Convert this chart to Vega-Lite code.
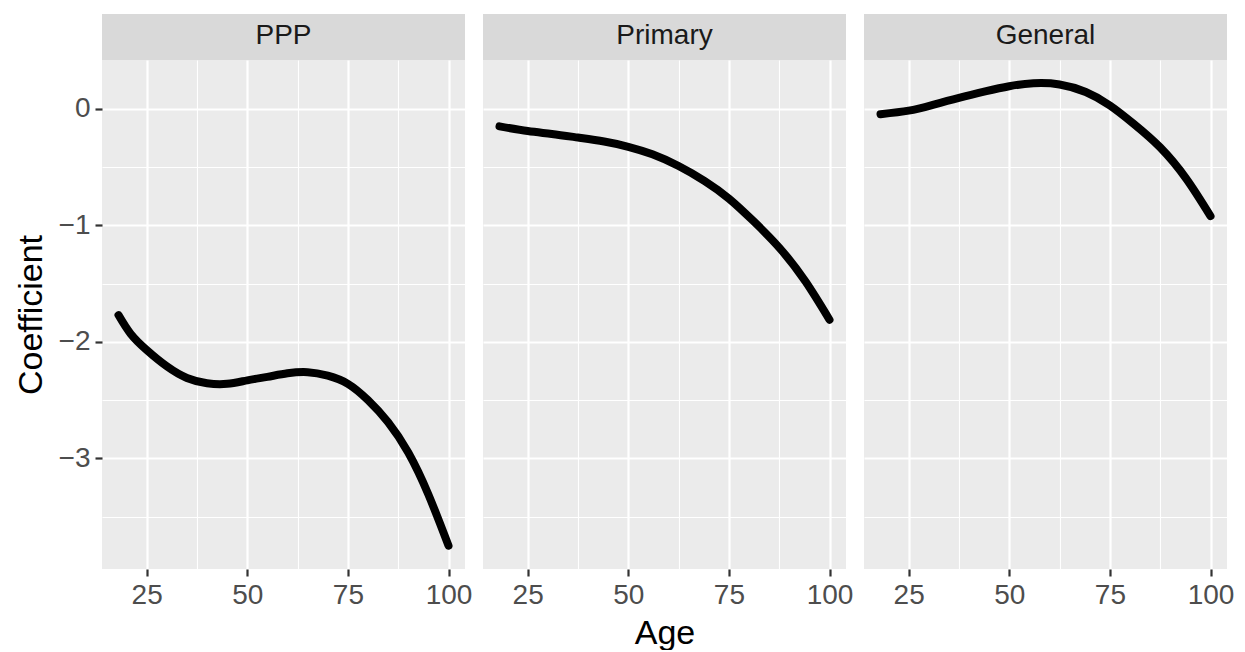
{
  "$schema": "https://vega.github.io/schema/vega-lite/v6.json",
  "background": "white",
  "padding": {"left": 14, "top": 14, "right": 5, "bottom": 0},
  "spacing": 11,
  "config": {
    "font": "Liberation Sans",
    "view": {"stroke": null},
    "axis": {
      "domain": false,
      "grid": true,
      "gridColor": "white",
      "tickColor": "#333333",
      "tickWidth": 2.2,
      "tickSize": 7,
      "labelFontSize": 28,
      "labelColor": "#4d4d4d",
      "labelPadding": 5,
      "titleFontSize": 34,
      "titleFontWeight": "normal",
      "titleColor": "black",
      "labelFlush": false,
      "labelOverlap": false
    }
  },
  "datasets": {
    "curves": [
      {"panel": "PPP", "age": 18, "coef": -1.77},
      {"panel": "PPP", "age": 21, "coef": -1.93},
      {"panel": "PPP", "age": 25, "coef": -2.07},
      {"panel": "PPP", "age": 30, "coef": -2.21},
      {"panel": "PPP", "age": 35, "coef": -2.31},
      {"panel": "PPP", "age": 40, "coef": -2.355},
      {"panel": "PPP", "age": 45, "coef": -2.36},
      {"panel": "PPP", "age": 50, "coef": -2.33},
      {"panel": "PPP", "age": 55, "coef": -2.3},
      {"panel": "PPP", "age": 60, "coef": -2.27},
      {"panel": "PPP", "age": 65, "coef": -2.26},
      {"panel": "PPP", "age": 70, "coef": -2.29},
      {"panel": "PPP", "age": 75, "coef": -2.36},
      {"panel": "PPP", "age": 80, "coef": -2.5},
      {"panel": "PPP", "age": 85, "coef": -2.69},
      {"panel": "PPP", "age": 90, "coef": -2.95},
      {"panel": "PPP", "age": 95, "coef": -3.31},
      {"panel": "PPP", "age": 100, "coef": -3.75},
      {"panel": "Primary", "age": 18, "coef": -0.15},
      {"panel": "Primary", "age": 25, "coef": -0.19},
      {"panel": "Primary", "age": 31, "coef": -0.215},
      {"panel": "Primary", "age": 37.5, "coef": -0.246},
      {"panel": "Primary", "age": 44, "coef": -0.28},
      {"panel": "Primary", "age": 50, "coef": -0.325},
      {"panel": "Primary", "age": 56, "coef": -0.39},
      {"panel": "Primary", "age": 62.5, "coef": -0.49},
      {"panel": "Primary", "age": 69, "coef": -0.62},
      {"panel": "Primary", "age": 75, "coef": -0.77},
      {"panel": "Primary", "age": 81, "coef": -0.96},
      {"panel": "Primary", "age": 87.5, "coef": -1.19},
      {"panel": "Primary", "age": 94, "coef": -1.48},
      {"panel": "Primary", "age": 100, "coef": -1.81},
      {"panel": "General", "age": 18, "coef": -0.045},
      {"panel": "General", "age": 25, "coef": -0.015},
      {"panel": "General", "age": 31, "coef": 0.035},
      {"panel": "General", "age": 37.5, "coef": 0.095},
      {"panel": "General", "age": 44, "coef": 0.15},
      {"panel": "General", "age": 50, "coef": 0.195},
      {"panel": "General", "age": 56, "coef": 0.22},
      {"panel": "General", "age": 62.5, "coef": 0.21},
      {"panel": "General", "age": 69, "coef": 0.145},
      {"panel": "General", "age": 75, "coef": 0.03},
      {"panel": "General", "age": 81, "coef": -0.13},
      {"panel": "General", "age": 87.5, "coef": -0.33},
      {"panel": "General", "age": 94, "coef": -0.6},
      {"panel": "General", "age": 100, "coef": -0.92}
    ]
  },
  "hconcat": [
    {
      "spacing": 0,
      "vconcat": [
        {
          "width": 363, "height": 46,
          "view": {"fill": "#d9d9d9", "stroke": null},
          "data": {"values": [{"label": "PPP"}]},
          "mark": {"type": "text", "fontSize": 28, "color": "#1a1a1a", "baseline": "alphabetic", "dy": 7},
          "encoding": {"text": {"field": "label"}}
        },
        {
          "width": 363, "height": 509,
          "view": {"fill": "#ebebeb", "stroke": null},
          "data": {"name": "curves"},
          "transform": [{"filter": "datum.panel === 'PPP'"}],
          "mark": {"type": "line", "color": "black", "strokeWidth": 8, "strokeCap": "round", "strokeJoin": "round", "interpolate": "natural"},
          "encoding": {
            "x": {"field": "age", "type": "quantitative", "scale": {"domain": [13.9, 104.1], "nice": false, "zero": false},
              "axis": {"title": null, "values": [25, 37.5, 50, 62.5, 75, 87.5, 100],
                "labelExpr": "datum.value % 25 === 0 ? format(datum.value, 'd') : ''",
                "gridWidth": {"condition": {"test": "datum.value % 25 === 0", "value": 2.2}, "value": 1.1},
                "tickOpacity": {"condition": {"test": "datum.value % 25 === 0", "value": 1}, "value": 0}}},
            "y": {"field": "coef", "type": "quantitative", "scale": {"domain": [-3.95, 0.42], "nice": false, "zero": false},
              "axis": {"title": "Coefficient", "titlePadding": 10, "values": [0, -0.5, -1, -1.5, -2, -2.5, -3, -3.5],
                "labelExpr": "datum.value % 1 === 0 ? format(datum.value, 'd') : ''",
                "gridWidth": {"condition": {"test": "datum.value % 1 === 0", "value": 2.2}, "value": 1.1},
                "tickOpacity": {"condition": {"test": "datum.value % 1 === 0", "value": 1}, "value": 0}}}
          }
        }
      ]
    },
    {
      "spacing": 0,
      "vconcat": [
        {
          "width": 363, "height": 46,
          "view": {"fill": "#d9d9d9", "stroke": null},
          "data": {"values": [{"label": "Primary"}]},
          "mark": {"type": "text", "fontSize": 28, "color": "#1a1a1a", "baseline": "alphabetic", "dy": 7},
          "encoding": {"text": {"field": "label"}}
        },
        {
          "width": 363, "height": 509,
          "view": {"fill": "#ebebeb", "stroke": null},
          "data": {"name": "curves"},
          "transform": [{"filter": "datum.panel === 'Primary'"}],
          "mark": {"type": "line", "color": "black", "strokeWidth": 8, "strokeCap": "round", "strokeJoin": "round", "interpolate": "natural"},
          "encoding": {
            "x": {"field": "age", "type": "quantitative", "scale": {"domain": [13.9, 104.1], "nice": false, "zero": false},
              "axis": {"title": "Age", "titlePadding": 7, "values": [25, 37.5, 50, 62.5, 75, 87.5, 100],
                "labelExpr": "datum.value % 25 === 0 ? format(datum.value, 'd') : ''",
                "gridWidth": {"condition": {"test": "datum.value % 25 === 0", "value": 2.2}, "value": 1.1},
                "tickOpacity": {"condition": {"test": "datum.value % 25 === 0", "value": 1}, "value": 0}}},
            "y": {"field": "coef", "type": "quantitative", "scale": {"domain": [-3.95, 0.42], "nice": false, "zero": false},
              "axis": {"title": null, "labels": false, "ticks": false, "values": [0, -0.5, -1, -1.5, -2, -2.5, -3, -3.5],
                "gridWidth": {"condition": {"test": "datum.value % 1 === 0", "value": 2.2}, "value": 1.1}}}
          }
        }
      ]
    },
    {
      "spacing": 0,
      "vconcat": [
        {
          "width": 363, "height": 46,
          "view": {"fill": "#d9d9d9", "stroke": null},
          "data": {"values": [{"label": "General"}]},
          "mark": {"type": "text", "fontSize": 28, "color": "#1a1a1a", "baseline": "alphabetic", "dy": 7},
          "encoding": {"text": {"field": "label"}}
        },
        {
          "width": 363, "height": 509,
          "view": {"fill": "#ebebeb", "stroke": null},
          "data": {"name": "curves"},
          "transform": [{"filter": "datum.panel === 'General'"}],
          "mark": {"type": "line", "color": "black", "strokeWidth": 8, "strokeCap": "round", "strokeJoin": "round", "interpolate": "natural"},
          "encoding": {
            "x": {"field": "age", "type": "quantitative", "scale": {"domain": [13.9, 104.1], "nice": false, "zero": false},
              "axis": {"title": null, "values": [25, 37.5, 50, 62.5, 75, 87.5, 100],
                "labelExpr": "datum.value % 25 === 0 ? format(datum.value, 'd') : ''",
                "gridWidth": {"condition": {"test": "datum.value % 25 === 0", "value": 2.2}, "value": 1.1},
                "tickOpacity": {"condition": {"test": "datum.value % 25 === 0", "value": 1}, "value": 0}}},
            "y": {"field": "coef", "type": "quantitative", "scale": {"domain": [-3.95, 0.42], "nice": false, "zero": false},
              "axis": {"title": null, "labels": false, "ticks": false, "values": [0, -0.5, -1, -1.5, -2, -2.5, -3, -3.5],
                "gridWidth": {"condition": {"test": "datum.value % 1 === 0", "value": 2.2}, "value": 1.1}}}
          }
        }
      ]
    }
  ]
}
